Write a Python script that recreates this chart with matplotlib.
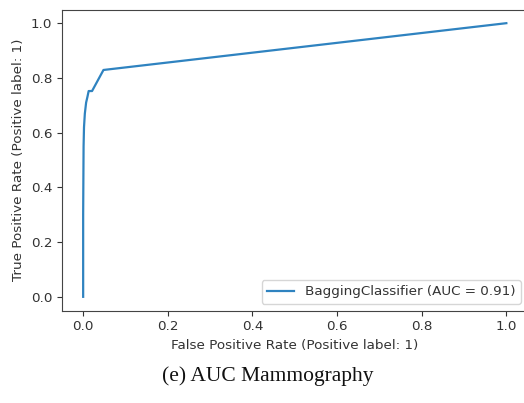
import matplotlib
matplotlib.use("Agg")
import matplotlib.pyplot as plt

fpr = [0.0, 0.0, 0.001, 0.002, 0.004, 0.007, 0.010, 0.013, 0.021, 0.048, 1.0]
tpr = [0.0, 0.30, 0.55, 0.62, 0.67, 0.71, 0.73, 0.752, 0.752, 0.829, 1.0]
label = "BaggingClassifier (AUC = 0.91)"
xlabel = "False Positive Rate (Positive label: 1)"
ylabel = "True Positive Rate (Positive label: 1)"
caption = "(e) AUC Mammography"
ticks = [0.0, 0.2, 0.4, 0.6, 0.8, 1.0]

W, H = 524, 403
fs = 9.7
fig = plt.figure(figsize=(W / 100, H / 100), dpi=100)
ax = fig.add_axes([62 / W, 1 - 310.5 / H, 465.5 / W, 301 / H])
ax.plot(fpr, tpr, color="#2f83c0", lw=1.6, label=label)
ax.set_xlim(-0.05, 1.05)
ax.set_ylim(-0.05, 1.05)
ax.set_xticks(ticks)
ax.set_yticks(ticks)
ax.tick_params(labelsize=fs, colors="#333333", labelcolor="#333333")
for s in ax.spines.values():
    s.set_color("#444444")
ax.set_xlabel(xlabel, fontsize=fs, color="#333333")
ax.set_ylabel(ylabel, fontsize=fs, color="#333333")
leg = ax.legend(loc="lower right", fontsize=fs)
for t in leg.get_texts():
    t.set_color("#333333")
fig.text(268 / W, 1 - 376 / H, caption, ha="center", va="center",
         family="Liberation Serif", fontsize=15.5, color="#111111")
fig.savefig("out.png", dpi=100)
